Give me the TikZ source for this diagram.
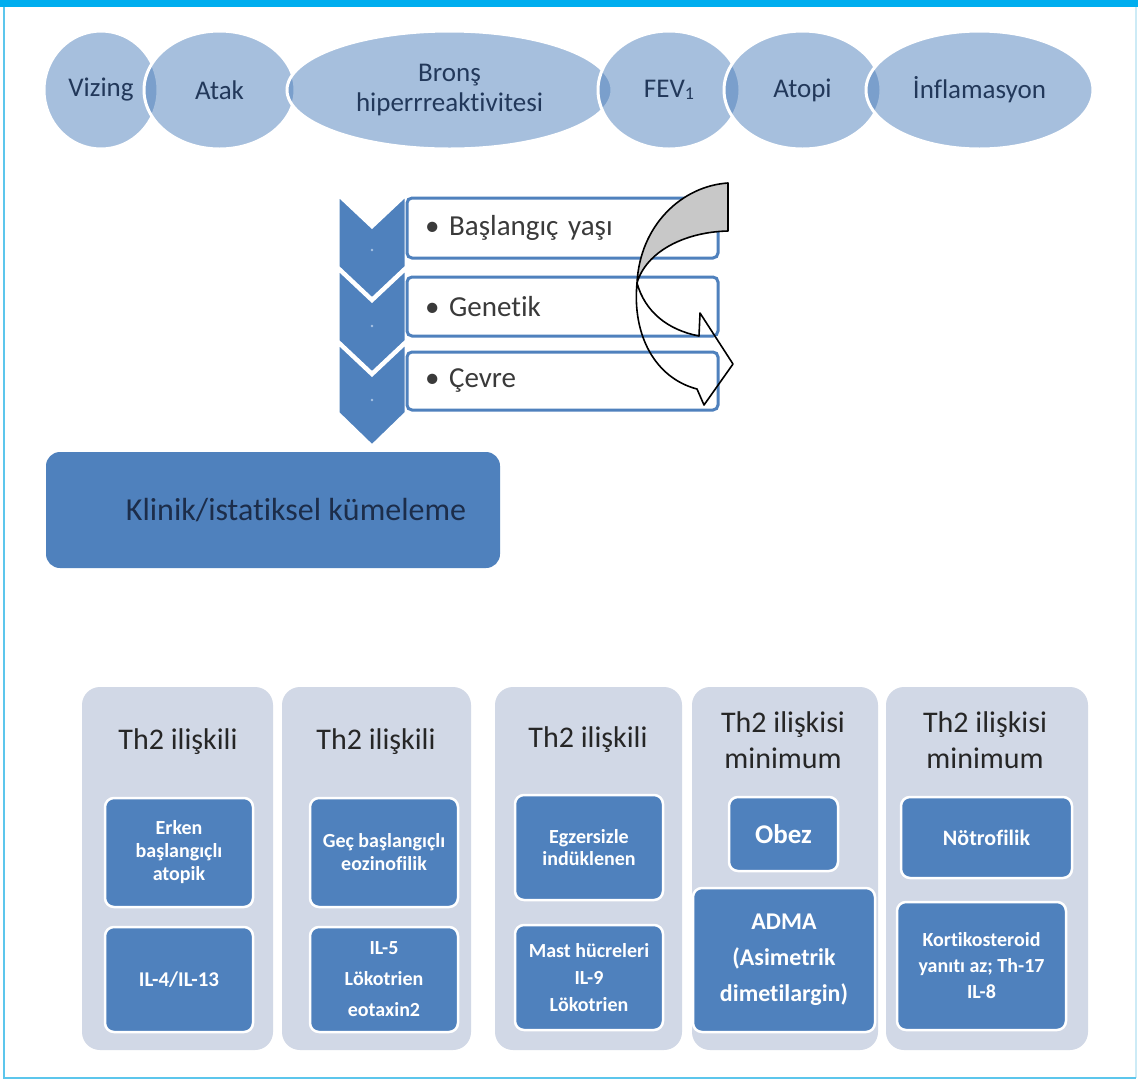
\documentclass[tikz,border=0pt]{standalone}
\usepackage{fontspec}
\setmainfont{Carlito}[Ligatures={NoCommon}]
\usetikzlibrary{shapes.geometric}
\definecolor{mainblue}{HTML}{4F81BD}
\definecolor{topcyan}{HTML}{00AEEF}
\definecolor{framec}{HTML}{5CC6EC}
\definecolor{framefaint}{HTML}{CDEBF6}
\definecolor{elltext}{HTML}{22385A}
\definecolor{recttext}{HTML}{3A3A3A}
\definecolor{klintext}{HTML}{1C2D4A}
\definecolor{paneltint}{HTML}{D1D8E6}
\definecolor{titletext}{HTML}{262626}
\definecolor{dotc}{HTML}{A9C4E4}
\definecolor{arrowgray}{HTML}{C8C8C8}
\begin{document}
\begin{tikzpicture}[x=1pt,y=-1pt,
  bub/.style={ellipse, fill=mainblue, fill opacity=0.5, draw=white, draw opacity=1,
    text opacity=1, line width=3pt, inner sep=0pt, text=elltext, align=center,
    minimum height=118pt, font=\fontsize{27}{30}\selectfont},
  chev/.style={fill=mainblue, draw=white, line width=3pt, line join=miter},
  lbox/.style={rectangle, rounded corners=5pt, draw=mainblue, fill=white, line width=3pt,
    minimum width=311pt, text width=275pt, inner xsep=18pt, align=left, text=recttext,
    font=\fontsize{29}{34}\selectfont},
  bigbox/.style={rectangle, rounded corners=14pt, fill=mainblue, draw=none},
  panel/.style={rectangle, rounded corners=18pt, fill=paneltint, draw=none, minimum height=363pt},
  ibox/.style={rectangle, rounded corners=9pt, fill=mainblue, draw=white, line width=2.5pt,
    text=white, align=center, inner sep=2pt, font=\bfseries\fontsize{20}{23}\selectfont},
  ttl/.style={font=\fontsize{30}{36}\selectfont, text=titletext, align=center},
  dotm/.style={circle, fill=dotc, inner sep=0pt, minimum size=2.6pt},
  arrowline/.style={draw=black, line width=1.6pt, line join=round}
]
\useasboundingbox (0,0) rectangle (1138,1080);
\fill[white] (0,0) rectangle (1138,1080);

% frame
\draw[framefaint, line width=2pt] (1136,7) -- (1136,1078);
\draw[framec, line width=2pt] (4,7) -- (4,1078) -- (1136,1078);
\fill[topcyan] (0,0) rectangle (1138,7);

% top ellipses
\node[bub, minimum width=114pt] (viz) at (101,90) {Vizing};
\node[bub, minimum width=151pt] (atak) at (219.5,90) {Atak};
\node[bub, minimum width=325pt] (bron) at (449.5,90) {Bronş\\hiperrreaktivitesi};
\node[bub, minimum width=142pt] (fev) at (669,90) {FEV{\fontsize{18}{18}\selectfont\raisebox{-1.5pt}{1}}};
\node[bub, minimum width=157pt] (atopi) at (802.5,90) {Atopi};
\node[bub, minimum width=227pt] (infl) at (979.5,90) {İnflamasyon};

% chevrons
\path[chev] (338,195) -- (372,227) -- (406,195) -- (406,267) -- (372,299) -- (338,267) -- cycle;
\path[chev] (338,269) -- (372,301) -- (406,269) -- (406,341) -- (372,373) -- (338,341) -- cycle;
\path[chev] (338,343) -- (372,375) -- (406,343) -- (406,413) -- (372,446) -- (338,413) -- cycle;
\node[dotm] (d1) at (372,250) {};
\node[dotm] (d2) at (372,326) {};
\node[dotm] (d3) at (372,400) {};

% list boxes
\node[lbox, minimum height=60pt] (r1) at (562.5,228) {• Başlangıç yaşı};
\node[lbox, minimum height=59pt] (r2) at (562.5,306.5) {• Genetik};
\node[lbox, minimum height=58pt] (r3) at (562.5,381) {• Çevre};

% curved arrow
\path[arrowline, fill=arrowgray] (728,183) .. controls (682,186) and (640,225) .. (637,283)
   .. controls (646,252) and (684,232) .. (728,231) -- cycle;
\path[arrowline] (637,283) .. controls (632,335) and (655,378) .. (697,389)
   -- (704,405) -- (733,364) -- (700,313) -- (699,336)
   .. controls (668,330) and (645,312) .. (637,283) -- cycle;

% clustering box
\node[bigbox, minimum width=454pt, minimum height=116pt] (klinik) at (273,510) {};
\node[font=\fontsize{32}{38}\selectfont, text=klintext] (klinikt) at (296,510) {Klinik/istatiksel kümeleme};

% panels
\node[panel, minimum width=191pt] (p1) at (177.5,868.5) {};
\node[panel, minimum width=189pt] (p2) at (376.5,868.5) {};
\node[panel, minimum width=187pt] (p3) at (588.5,868.5) {};
\node[panel, minimum width=186pt] (p4) at (785,868.5) {};
\node[panel, minimum width=202pt] (p5) at (987,868.5) {};

\node[ttl] (t1) at (178,742) {Th2 ilişkili};
\node[ttl] (t2) at (376,742) {Th2 ilişkili};
\node[ttl] (t3) at (588,740) {Th2 ilişkili};
\node[ttl] (t4) at (783,740) {Th2 ilişkisi\\minimum};
\node[ttl] (t5) at (985,740) {Th2 ilişkisi\\minimum};

% inner boxes
\node[ibox, minimum width=148pt, minimum height=109pt] (b1a) at (179,852.5) {Erken\\başlangıçlı\\atopik};
\node[ibox, minimum width=148pt, minimum height=105pt, font=\bfseries\fontsize{21}{24}\selectfont] (b1b) at (179,979.5) {IL-4/IL-13};
\node[ibox, minimum width=148pt, minimum height=109pt] (b2a) at (384,852.5) {Geç başlangıçlı\\eozinofilik};
\node[ibox, minimum width=148pt, minimum height=105pt, font=\bfseries\fontsize{20}{31}\selectfont] (b2b) at (384,979.5) {IL-5\\Lökotrien\\eotaxin2};
\node[ibox, minimum width=148pt, minimum height=105pt, font=\bfseries\fontsize{20}{22}\selectfont] (b3a) at (589,847.5) {Egzersizle\\indüklenen};
\node[ibox, minimum width=148pt, minimum height=105pt, font=\bfseries\fontsize{20}{27}\selectfont] (b3b) at (589,977.5) {Mast hücreleri\\IL-9\\Lökotrien};
\node[ibox, minimum width=109pt, minimum height=74pt, font=\bfseries\fontsize{27}{30}\selectfont] (b4a) at (783.5,834) {Obez};
\node[ibox, minimum width=182pt, minimum height=144pt, font=\bfseries\fontsize{24}{36}\selectfont] (b4b) at (784,960) {ADMA\\(Asimetrik\\dimetilargin)};
\node[ibox, minimum width=171pt, minimum height=81pt, font=\bfseries\fontsize{22}{26}\selectfont] (b5a) at (986.5,837.5) {Nötrofilik};
\node[ibox, minimum width=169pt, minimum height=128pt, font=\bfseries\fontsize{20}{26}\selectfont] (b5b) at (981.5,966) {Kortikosteroid\\yanıtı az; Th-17\\IL-8};
\end{tikzpicture}
\end{document}
